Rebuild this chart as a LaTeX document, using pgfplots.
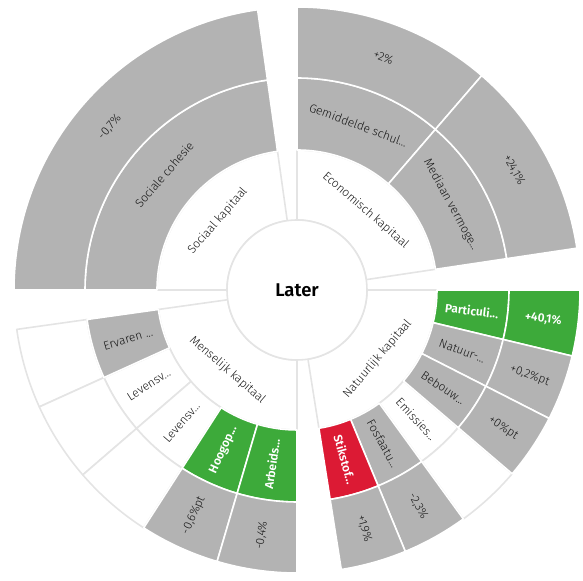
\documentclass[border=0pt]{standalone}
\usepackage{pgfplots}
\pgfplotsset{compat=1.18}
\usepackage{fontspec}
\setmainfont{Fira Sans}[UprightFont=* Light, BoldFont=* SemiBold]

\definecolor{cgray}{HTML}{B3B3B3}
\definecolor{cgreen}{HTML}{3DAA3A}
\definecolor{cred}{HTML}{DC1A34}
\definecolor{cline}{HTML}{E4E4E4}
\definecolor{ctext}{HTML}{161616}

% one axis unit = one pixel of the reference
\def\U{0.02cm}
% ring radii
\def\rA{70}\def\rB{140}\def\rC{212}\def\rD{283}

% sector: start angle, end angle, inner r, outer r, fill, border
\newcommand{\sect}[6]{%
  \draw[fill=#5, draw=#6, line width=0.9pt, line join=round]
    (axis cs:0,0) ++(#1:#3*\U) arc[start angle=#1, end angle=#2, radius=#3*\U]
    -- ++(#2:#4*\U-#3*\U) arc[start angle=#2, end angle=#1, radius=#4*\U] -- cycle;}
% label: angle, radius, rotation, style, text
\newcommand{\lab}[5]{\path (axis cs:0,0) ++(#1:#2*\U) node[rotate=#3, inner sep=0pt, #4]{#5};}

\tikzset{
  dark/.style={text=ctext, font=\fontsize{6.8}{7}\selectfont},
  light/.style={text=white, font=\fontsize{6.8}{7}\selectfont\bfseries},
}

\begin{document}
\begin{tikzpicture}
\begin{axis}[x=\U, y=\U, xmin=-297, xmax=286, ymin=-291, ymax=290,
  hide axis, clip=false, scale only axis]
\path (axis cs:-297,-291) rectangle (axis cs:286,290);

% ---- white cells (light outline)
\sect{8.5}{90}{\rA}{\rB}{white}{cline}
\sect{98}{180}{\rA}{\rB}{white}{cline}
\sect{188}{270}{\rA}{\rB}{white}{cline}
\sect{279}{360}{\rA}{\rB}{white}{cline}
\sect{204.4}{220.8}{\rB}{\rC}{white}{cline}
\sect{220.8}{237.2}{\rB}{\rC}{white}{cline}
\sect{306}{319.5}{\rB}{\rC}{white}{cline}
\sect{188}{204.4}{\rC}{\rD}{white}{cline}
\sect{204.4}{220.8}{\rC}{\rD}{white}{cline}
\sect{220.8}{237.2}{\rC}{\rD}{white}{cline}
\sect{306}{319.5}{\rC}{\rD}{white}{cline}

% ---- economisch kapitaal
\sect{49.25}{90}{\rB}{\rC}{cgray}{white}
\sect{8.5}{49.25}{\rB}{\rC}{cgray}{white}
\sect{49.25}{90}{\rC}{\rD}{cgray}{white}
\sect{8.5}{49.25}{\rC}{\rD}{cgray}{white}
% ---- sociaal kapitaal
\sect{98}{180}{\rB}{\rC}{cgray}{white}
\sect{98}{180}{\rC}{\rD}{cgray}{white}
% ---- menselijk kapitaal
\sect{188}{204.4}{\rB}{\rC}{cgray}{white}
\sect{237.2}{253.6}{\rB}{\rC}{cgreen}{white}
\sect{253.6}{270}{\rB}{\rC}{cgreen}{white}
\sect{237.2}{253.6}{\rC}{\rD}{cgray}{white}
\sect{253.6}{270}{\rC}{\rD}{cgray}{white}
% ---- natuurlijk kapitaal
\sect{346.5}{360}{\rB}{\rC}{cgreen}{white}
\sect{333}{346.5}{\rB}{\rC}{cgray}{white}
\sect{319.5}{333}{\rB}{\rC}{cgray}{white}
\sect{292.5}{306}{\rB}{\rC}{cgray}{white}
\sect{279}{292.5}{\rB}{\rC}{cred}{white}
\sect{346.5}{360}{\rC}{\rD}{cgreen}{white}
\sect{333}{346.5}{\rC}{\rD}{cgray}{white}
\sect{319.5}{333}{\rC}{\rD}{cgray}{white}
\sect{292.5}{306}{\rC}{\rD}{cgray}{white}
\sect{279}{292.5}{\rC}{\rD}{cgray}{white}

% centre
\draw[fill=white, draw=cline, line width=0.9pt] (axis cs:0,0) circle[radius=\rA*\U];
\lab{0}{0}{0}{text=black, font=\fontsize{10.5}{12}\selectfont\bfseries}{Later}

% ---- ring 1 labels
\lab{49.25}{105}{-40.75}{dark}{Economisch kapitaal}
\lab{139}{105}{49}{dark}{Sociaal kapitaal}
\lab{229}{106}{-41}{dark}{Menselijk kapitaal}
\lab{319.5}{106}{49.5}{dark}{Natuurlijk kapitaal}

% ---- ring 2 labels
\lab{69.6}{176}{-20.4}{dark}{Gemiddelde schul...}
\lab{28.9}{176}{-61.1}{dark}{Mediaan vermoge...}
\lab{139}{176}{49}{dark}{Sociale cohesie}
\lab{196.2}{176}{16.2}{dark}{Ervaren ...}
\lab{212.6}{176}{32.6}{dark}{Levensv...}
\lab{229}{176}{49}{dark}{Levensv...}
\lab{245.4}{176}{65.4}{light}{Hoogop...}
\lab{261.8}{176}{81.8}{light}{Arbeids...}
\lab{353.25}{176}{-6.75}{light}{Particuli...}
\lab{339.75}{176}{-20.25}{dark}{Natuur-...}
\lab{326.25}{176}{-33.75}{dark}{Bebouw...}
\lab{312.75}{176}{-47.25}{dark}{Emissies...}
\lab{299.25}{176}{-60.75}{dark}{Fosfaatu...}
\lab{285.75}{176}{-74.25}{light}{Stikstof...}

% ---- ring 3 labels (values)
\lab{69.6}{248}{-20.4}{dark}{+2\%}
\lab{28.9}{248}{-61.1}{dark}{+24,1\%}
\lab{139}{248}{49}{dark}{-0,7\%}
\lab{245.4}{248}{65.4}{dark}{-0,6\%pt}
\lab{261.8}{248}{81.8}{dark}{-0,4\%}
\lab{353.25}{248}{-6.75}{light}{+40,1\%}
\lab{339.75}{248}{-20.25}{dark}{+0,2\%pt}
\lab{326.25}{248}{-33.75}{dark}{+0\%pt}
\lab{299.25}{248}{-60.75}{dark}{-2,3\%}
\lab{285.75}{248}{-74.25}{dark}{+1,9\%}
\end{axis}
\end{tikzpicture}
\end{document}
